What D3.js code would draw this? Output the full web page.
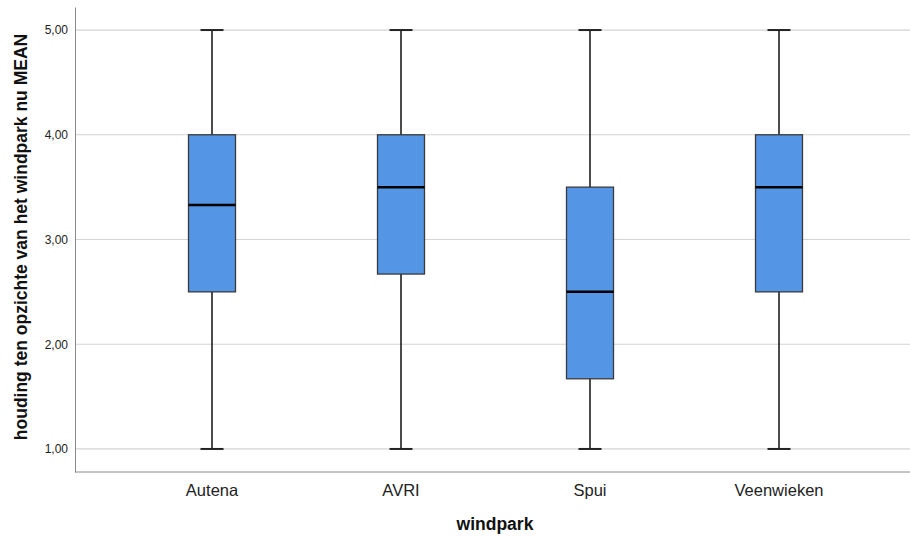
<!DOCTYPE html>
<html>
<head>
<meta charset="utf-8">
<script src="https://cdn.jsdelivr.net/npm/d3@7"></script>
<style>
body { margin:0; background:#fff; }
text { font-family: "Liberation Sans", Arial, sans-serif; }
</style>
</head>
<body>
<script>
var width = 910, height = 537;

// data
var parks = ["Autena", "AVRI", "Spui", "Veenwieken"];
var mins    = [1.00, 1.00, 1.00, 1.00];
var q1s     = [2.50, 2.67, 1.67, 2.50];
var medians = [3.33, 3.50, 2.50, 3.50];
var q3s     = [4.00, 4.00, 3.50, 4.00];
var maxs    = [5.00, 5.00, 5.00, 5.00];
var yTicks  = [1, 2, 3, 4, 5];

var svg = d3.select("body").append("svg")
            .attr("width", width)
            .attr("height", height);

var x = d3.scaleBand()
          .domain(parks)
          .range([117.5, 873.5]);

var y = d3.scaleLinear()
          .domain([0.78, 5.22])
          .range([472, 7]);

var fmt = function(d){ return d3.format(".2f")(d).replace(".", ","); };

// gridlines
svg.append("g").selectAll("line")
   .data(yTicks)
   .enter().append("line")
   .attr("x1", 75).attr("x2", width)
   .attr("y1", function(d){ return y(d); })
   .attr("y2", function(d){ return y(d); })
   .attr("stroke", "#d4d4d4")
   .attr("stroke-width", 1.2);

// y axis
var yAxis = d3.axisLeft(y).tickValues(yTicks).tickFormat(fmt).tickSize(0).tickSizeOuter(0).tickPadding(7);
var gy = svg.append("g").attr("transform", "translate(75,0)").call(yAxis);
gy.select(".domain").attr("stroke", "#8a8a8a");
gy.selectAll(".tick text").attr("font-size", 12).attr("fill", "#222")
  .attr("font-family", "Liberation Sans, Arial, sans-serif");

// x axis
var xAxis = d3.axisBottom(x).tickSize(0).tickPadding(12);
var gx = svg.append("g").attr("transform", "translate(0,472)").call(xAxis);
gx.select(".domain").remove();
gx.selectAll(".tick text").attr("font-size", 16.5).attr("fill", "#222")
  .attr("font-family", "Liberation Sans, Arial, sans-serif");
svg.append("line")
   .attr("x1", 75).attr("x2", width)
   .attr("y1", 472).attr("y2", 472)
   .attr("stroke", "#8a8a8a");

// boxes
var boxW = 47, capW = 23;
var boxes = svg.append("g").selectAll("g")
   .data(parks)
   .enter().append("g")
   .attr("transform", function(d){ return "translate(" + (x(d) + x.bandwidth()/2) + ",0)"; });

boxes.append("line")
     .attr("x1", 0).attr("x2", 0)
     .attr("y1", function(d,i){ return y(maxs[i]); })
     .attr("y2", function(d,i){ return y(mins[i]); })
     .attr("stroke", "#111").attr("stroke-width", 1.5);

boxes.append("line")
     .attr("x1", -capW/2).attr("x2", capW/2)
     .attr("y1", function(d,i){ return y(maxs[i]); })
     .attr("y2", function(d,i){ return y(maxs[i]); })
     .attr("stroke", "#222").attr("stroke-width", 2);

boxes.append("line")
     .attr("x1", -capW/2).attr("x2", capW/2)
     .attr("y1", function(d,i){ return y(mins[i]); })
     .attr("y2", function(d,i){ return y(mins[i]); })
     .attr("stroke", "#222").attr("stroke-width", 2);

boxes.append("rect")
     .attr("x", -boxW/2)
     .attr("width", boxW)
     .attr("y", function(d,i){ return y(q3s[i]); })
     .attr("height", function(d,i){ return y(q1s[i]) - y(q3s[i]); })
     .attr("fill", "#5595e5")
     .attr("stroke", "#3a3a3a")
     .attr("stroke-width", 1.3);

boxes.append("line")
     .attr("x1", -boxW/2).attr("x2", boxW/2)
     .attr("y1", function(d,i){ return y(medians[i]); })
     .attr("y2", function(d,i){ return y(medians[i]); })
     .attr("stroke", "#000").attr("stroke-width", 2.5);

// axis titles
svg.append("text")
   .attr("x", 495).attr("y", 530)
   .attr("text-anchor", "middle")
   .attr("font-size", 17.5).attr("font-weight", "bold").attr("fill", "#111")
   .text("windpark");

svg.append("text")
   .attr("transform", "translate(27,237) rotate(-90)")
   .attr("text-anchor", "middle")
   .attr("font-size", 17.5).attr("font-weight", "bold").attr("fill", "#111")
   .text("houding ten opzichte van het windpark nu MEAN");
</script>
</body>
</html>
